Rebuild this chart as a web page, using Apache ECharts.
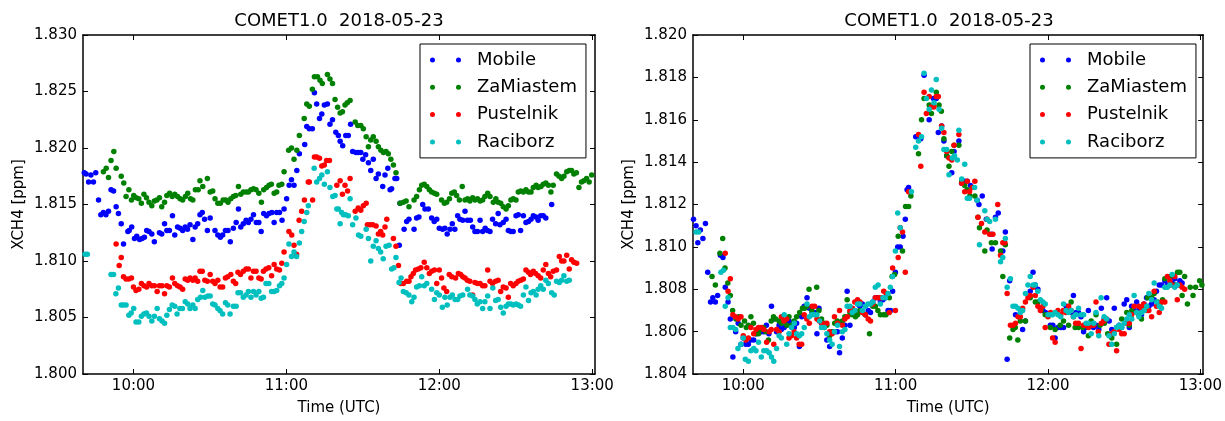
<!DOCTYPE html>
<html><head><meta charset="utf-8">
<script src="https://cdn.jsdelivr.net/npm/echarts@6/dist/echarts.min.js"></script>
<style>html,body{margin:0;padding:0;background:#fff}#c{width:1225px;height:421px}</style>
</head><body><div id="c"></div>
<script>
// time = minutes after 09:00 UTC, value = XCH4 [ppm]
const titleText = 'COMET1.0  2018-05-23';
const seriesNames = ['Mobile', 'ZaMiastem', 'Pustelnik', 'Raciborz'];
const seriesColors = ['#0000ff', '#008000', '#ff0000', '#00bfbf'];
const xTickMinutes = [60, 120, 180, 240];
const xRange = [40.2, 241.1];
const yRangeLeft = [1.800, 1.830, 0.005];
const yRangeRight = [1.804, 1.820, 0.002];

// ---------- left panel ----------
const mobileLeft = [[40.7,1.8178],[41.4,1.8177],[42.4,1.8170],[43.3,1.8176],[44.3,1.8170],[45.2,1.8178],[46.3,1.8154],[47.2,1.8141],[48.2,1.8143],[49.2,1.8141],[50.2,1.8144],[51.2,1.8163],[52.2,1.8162],[53.2,1.8148],[54.1,1.8142],[55.2,1.8133],[56.1,1.8115],[57.8,1.8126],[58.3,1.8127],[59.3,1.8130],[60.4,1.8120],[61.3,1.8122],[62.4,1.8119],[63.4,1.8120],[64.3,1.8121],[65.2,1.8127],[66.1,1.8126],[67.2,1.8124],[68.2,1.8117],[70.2,1.8125],[71.1,1.8124],[72.2,1.8133],[73.1,1.8127],[74.1,1.8127],[75.3,1.8140],[76.2,1.8123],[77.3,1.8130],[78.3,1.8129],[79.3,1.8127],[80.3,1.8130],[81.2,1.8128],[82.2,1.8132],[83.3,1.8119],[84.2,1.8130],[85.2,1.8133],[86.1,1.8141],[87.0,1.8143],[87.9,1.8137],[89.0,1.8127],[90.1,1.8138],[92.0,1.8127],[93.1,1.8123],[94.1,1.8121],[95.0,1.8123],[96.1,1.8127],[97.1,1.8127],[98.0,1.8117],[99.2,1.8129],[100.3,1.8134],[101.2,1.8146],[102.1,1.8130],[103.1,1.8133],[104.2,1.8136],[105.1,1.8134],[106.1,1.8137],[107.1,1.8141],[108.2,1.8134],[109.2,1.8134],[110.1,1.8126],[111.1,1.8142],[112.2,1.8140],[113.2,1.8142],[114.3,1.8143],[115.2,1.8134],[116.2,1.8143],[117.3,1.8143],[118.3,1.8136],[119.1,1.8146],[120.1,1.8155],[121.1,1.8167],[122.0,1.8172],[123.0,1.8167],[124.1,1.8180],[125.1,1.8195],[127.2,1.8203],[128.0,1.8219],[129.0,1.8217],[130.2,1.8217],[131.0,1.8249],[131.9,1.8239],[133.0,1.8226],[133.9,1.8230],[134.9,1.8238],[136.1,1.8239],[137.1,1.8221],[138.1,1.8225],[139.4,1.8214],[140.4,1.8211],[141.1,1.8206],[142.1,1.8202],[143.3,1.8211],[144.3,1.8211],[145.2,1.8221],[146.0,1.8197],[147.3,1.8196],[148.2,1.8196],[149.2,1.8196],[150.0,1.8190],[151.1,1.8194],[152.2,1.8187],[153.1,1.8180],[154.1,1.8190],[155.2,1.8173],[156.1,1.8177],[157.8,1.8166],[158.7,1.8176],[159.8,1.8182],[160.7,1.8163],[161.3,1.8164],[162.6,1.8173],[163.3,1.8173],[164.3,1.8114],[164.6,1.8151],[166.2,1.8128],[167.2,1.8135],[168.1,1.8137],[170.1,1.8128],[171.1,1.8138],[172.0,1.8139],[173.5,1.8150],[174.4,1.8146],[175.7,1.8146],[177.0,1.8138],[178.0,1.8135],[179.0,1.8137],[180.0,1.8129],[181.3,1.8128],[182.2,1.8129],[183.1,1.8124],[184.2,1.8128],[185.1,1.8133],[186.1,1.8128],[187.2,1.8140],[188.1,1.8137],[189.2,1.8136],[190.1,1.8144],[191.1,1.8136],[192.2,1.8136],[193.1,1.8130],[194.0,1.8126],[195.0,1.8126],[196.0,1.8136],[197.0,1.8126],[198.0,1.8129],[198.9,1.8127],[199.9,1.8126],[200.9,1.8137],[202.1,1.8133],[203.1,1.8142],[203.8,1.8132],[205.1,1.8134],[206.2,1.8137],[207.1,1.8127],[208.1,1.8126],[209.0,1.8126],[210.1,1.8140],[211.0,1.8141],[211.9,1.8127],[213.0,1.8140],[214.0,1.8134],[215.0,1.8135],[216.0,1.8137],[216.9,1.8140],[217.9,1.8139],[218.8,1.8136],[219.8,1.8140],[220.8,1.8140],[221.8,1.8138],[224.1,1.8150]];
const zaMiastemLeft = [[48.2,1.8179],[49.3,1.8182],[50.2,1.8174],[51.2,1.8189],[52.3,1.8197],[53.2,1.8182],[55.2,1.8175],[56.2,1.8169],[57.1,1.8157],[58.2,1.8163],[59.2,1.8154],[60.1,1.8158],[61.1,1.8156],[62.1,1.8155],[63.1,1.8151],[64.1,1.8159],[65.1,1.8156],[66.1,1.8152],[67.2,1.8149],[68.2,1.8153],[69.2,1.8154],[70.2,1.8156],[71.1,1.8148],[72.2,1.8152],[73.1,1.8158],[74.2,1.8160],[75.2,1.8157],[76.2,1.8159],[77.3,1.8157],[78.3,1.8155],[79.3,1.8154],[80.4,1.8157],[81.3,1.8160],[82.4,1.8155],[83.3,1.8154],[84.3,1.8163],[85.4,1.8163],[86.1,1.8171],[87.2,1.8166],[89.0,1.8173],[90.1,1.8161],[91.1,1.8162],[92.0,1.8155],[93.1,1.8151],[94.1,1.8151],[95.2,1.8154],[96.2,1.8154],[97.1,1.8152],[98.2,1.8155],[99.2,1.8157],[100.1,1.8158],[101.2,1.8166],[102.1,1.8159],[103.1,1.8161],[104.2,1.8161],[105.1,1.8161],[106.1,1.8163],[107.1,1.8164],[108.1,1.8163],[109.2,1.8160],[110.2,1.8152],[111.1,1.8163],[112.2,1.8165],[113.2,1.8167],[114.1,1.8168],[115.2,1.8160],[116.2,1.8161],[117.1,1.8167],[118.2,1.8168],[119.1,1.8179],[120.9,1.8198],[122.0,1.8200],[123.0,1.8190],[124.1,1.8198],[125.1,1.8211],[127.0,1.8226],[128.0,1.8239],[129.0,1.8237],[130.2,1.8252],[131.0,1.8263],[132.2,1.8263],[133.2,1.8260],[134.1,1.8257],[136.1,1.8265],[137.1,1.8261],[138.1,1.8257],[139.1,1.8243],[140.1,1.8236],[141.1,1.8231],[142.0,1.8232],[143.0,1.8238],[143.9,1.8240],[145.0,1.8242],[147.0,1.8223],[148.0,1.8220],[149.2,1.8220],[150.2,1.8217],[151.3,1.8210],[152.2,1.8201],[153.1,1.8207],[154.1,1.8210],[155.2,1.8206],[156.1,1.8201],[157.1,1.8198],[158.1,1.8196],[159.1,1.8197],[160.0,1.8195],[161.0,1.8190],[162.0,1.8185],[163.0,1.8178],[164.6,1.8151],[165.9,1.8152],[167.0,1.8153],[168.1,1.8148],[170.1,1.8154],[171.1,1.8157],[172.2,1.8163],[173.1,1.8167],[174.1,1.8168],[175.1,1.8166],[176.1,1.8163],[177.0,1.8161],[178.1,1.8160],[179.0,1.8159],[180.9,1.8154],[182.0,1.8151],[182.9,1.8152],[184.0,1.8155],[184.9,1.8160],[185.9,1.8161],[186.8,1.8158],[187.9,1.8154],[189.0,1.8166],[190.1,1.8154],[191.1,1.8155],[192.0,1.8153],[193.1,1.8156],[194.0,1.8154],[195.0,1.8155],[196.0,1.8153],[197.0,1.8154],[197.9,1.8157],[199.0,1.8160],[199.9,1.8157],[201.2,1.8152],[202.2,1.8155],[203.1,1.8152],[204.1,1.8151],[205.1,1.8148],[206.2,1.8146],[207.1,1.8149],[208.1,1.8154],[209.0,1.8155],[210.1,1.8154],[211.0,1.8161],[212.0,1.8162],[213.0,1.8161],[214.0,1.8163],[215.0,1.8161],[216.0,1.8161],[216.9,1.8165],[218.0,1.8167],[218.8,1.8165],[219.9,1.8166],[220.8,1.8168],[221.8,1.8169],[222.8,1.8167],[223.8,1.8161],[224.7,1.8167],[226.0,1.8177],[227.0,1.8175],[228.0,1.8173],[228.9,1.8175],[230.0,1.8179],[231.0,1.8180],[231.9,1.8180],[232.8,1.8177],[233.8,1.8178],[234.8,1.8165],[235.8,1.8170],[236.7,1.8171],[237.8,1.8173],[238.8,1.8170],[239.8,1.8176]];
const pustelnikLeft = [[53.2,1.8115],[54.4,1.8096],[55.2,1.8103],[56.1,1.8086],[57.1,1.8084],[58.2,1.8084],[59.2,1.8085],[60.0,1.8077],[61.0,1.8074],[62.1,1.8075],[63.1,1.8080],[64.1,1.8078],[65.2,1.8077],[66.1,1.8080],[67.2,1.8078],[68.2,1.8078],[69.3,1.8073],[70.2,1.8078],[71.2,1.8078],[72.2,1.8071],[73.1,1.8078],[74.1,1.8077],[75.3,1.8085],[76.2,1.8080],[77.3,1.8078],[78.3,1.8077],[79.3,1.8075],[80.3,1.8084],[81.3,1.8083],[82.2,1.8085],[83.3,1.8083],[84.2,1.8085],[85.2,1.8082],[86.1,1.8091],[87.0,1.8091],[88.0,1.8083],[89.0,1.8082],[90.1,1.8088],[91.1,1.8082],[92.0,1.8080],[93.1,1.8083],[94.0,1.8077],[95.0,1.8077],[96.1,1.8085],[97.0,1.8086],[98.2,1.8088],[99.2,1.8082],[100.1,1.8080],[101.0,1.8090],[102.0,1.8088],[103.1,1.8091],[104.2,1.8093],[105.1,1.8093],[106.1,1.8085],[107.1,1.8091],[108.1,1.8091],[109.2,1.8085],[110.1,1.8084],[111.0,1.8091],[112.0,1.8093],[113.1,1.8094],[114.2,1.8087],[115.2,1.8097],[116.2,1.8093],[117.3,1.8092],[118.2,1.8098],[119.1,1.8108],[121.0,1.8126],[122.1,1.8123],[123.0,1.8114],[124.0,1.8106],[125.0,1.8136],[126.0,1.8144],[127.1,1.8154],[128.6,1.8170],[129.0,1.8170],[130.3,1.8154],[131.0,1.8192],[131.9,1.8192],[133.0,1.8191],[133.9,1.8184],[134.9,1.8185],[135.8,1.8189],[136.9,1.8189],[139.8,1.8167],[141.1,1.8171],[142.0,1.8159],[143.0,1.8167],[144.0,1.8162],[145.0,1.8173],[147.0,1.8144],[148.2,1.8147],[149.2,1.8145],[150.2,1.8149],[151.3,1.8151],[151.8,1.8132],[152.8,1.8132],[153.9,1.8132],[155.2,1.8131],[156.1,1.8124],[157.0,1.8126],[157.8,1.8123],[158.7,1.8130],[159.4,1.8137],[162.0,1.8120],[163.0,1.8113],[164.0,1.8096],[164.9,1.8080],[165.9,1.8080],[167.2,1.8082],[168.1,1.8082],[168.9,1.8086],[169.8,1.8089],[170.7,1.8092],[171.8,1.8093],[172.8,1.8094],[174.1,1.8099],[175.1,1.8094],[176.1,1.8089],[177.0,1.8091],[178.1,1.8092],[179.0,1.8080],[180.0,1.8092],[180.9,1.8085],[181.8,1.8076],[182.9,1.8073],[183.9,1.8088],[184.9,1.8086],[186.4,1.8085],[187.5,1.8089],[188.4,1.8088],[189.2,1.8086],[190.1,1.8085],[191.0,1.8083],[192.0,1.8082],[193.1,1.8070],[194.0,1.8081],[195.0,1.8080],[196.0,1.8080],[197.0,1.8078],[197.9,1.8078],[199.0,1.8092],[199.9,1.8082],[200.9,1.8080],[202.1,1.8082],[203.1,1.8083],[204.1,1.8073],[205.1,1.8077],[206.2,1.8076],[207.1,1.8068],[208.0,1.8080],[209.0,1.8078],[210.1,1.8080],[211.0,1.8082],[212.0,1.8083],[213.0,1.8084],[214.0,1.8092],[215.0,1.8090],[215.8,1.8088],[216.9,1.8091],[217.8,1.8089],[218.8,1.8087],[219.8,1.8085],[220.8,1.8092],[221.8,1.8097],[222.8,1.8089],[223.7,1.8086],[224.7,1.8091],[226.0,1.8092],[227.1,1.8104],[228.0,1.8100],[228.9,1.8100],[230.0,1.8105],[231.0,1.8093],[231.9,1.8101],[232.8,1.8099],[233.9,1.8098]];
const raciborzLeft = [[41.0,1.8106],[41.9,1.8106],[51.2,1.8088],[52.2,1.8088],[53.1,1.8071],[54.1,1.8076],[55.2,1.8061],[56.1,1.8061],[57.1,1.8061],[58.2,1.8052],[59.1,1.8054],[60.1,1.8058],[61.0,1.8046],[62.1,1.8046],[63.1,1.8051],[64.1,1.8053],[65.1,1.8054],[66.1,1.8051],[67.2,1.8047],[68.2,1.8051],[69.3,1.8058],[70.2,1.8049],[71.2,1.8047],[72.2,1.8045],[73.1,1.8052],[74.1,1.8057],[75.2,1.8061],[76.2,1.8060],[77.1,1.8053],[78.2,1.8058],[79.2,1.8058],[80.3,1.8064],[81.3,1.8062],[82.2,1.8058],[83.3,1.8061],[84.2,1.8058],[85.2,1.8066],[86.3,1.8068],[87.2,1.8074],[88.0,1.8068],[89.2,1.8069],[90.1,1.8069],[91.1,1.8062],[92.0,1.8061],[93.1,1.8058],[94.0,1.8056],[95.0,1.8053],[96.1,1.8063],[97.0,1.8061],[97.9,1.8053],[99.2,1.8060],[100.3,1.8060],[101.0,1.8072],[102.0,1.8072],[103.1,1.8068],[104.2,1.8070],[105.1,1.8073],[106.1,1.8068],[107.1,1.8073],[108.1,1.8070],[109.2,1.8073],[110.1,1.8067],[111.0,1.8068],[112.0,1.8080],[113.1,1.8080],[114.2,1.8073],[115.2,1.8073],[116.2,1.8074],[117.3,1.8078],[118.2,1.8080],[119.1,1.8085],[120.1,1.8097],[121.0,1.8115],[122.0,1.8104],[123.0,1.8108],[124.0,1.8104],[125.1,1.8116],[126.0,1.8126],[127.0,1.8135],[128.0,1.8143],[128.6,1.8149],[130.9,1.8182],[131.9,1.8170],[133.0,1.8173],[133.9,1.8176],[134.9,1.8168],[136.1,1.8179],[137.1,1.8165],[138.2,1.8157],[139.1,1.8158],[139.8,1.8146],[140.4,1.8146],[141.1,1.8133],[141.7,1.8143],[142.4,1.8141],[143.3,1.8141],[144.3,1.8140],[145.0,1.8155],[146.0,1.8132],[147.3,1.8138],[148.3,1.8123],[149.2,1.8122],[151.3,1.8128],[152.2,1.8120],[153.1,1.8100],[154.1,1.8113],[155.2,1.8118],[156.1,1.8111],[157.0,1.8108],[158.0,1.8102],[159.1,1.8113],[160.3,1.8114],[161.3,1.8093],[162.2,1.8094],[163.0,1.8103],[164.2,1.8081],[165.0,1.8085],[165.9,1.8073],[167.0,1.8072],[168.1,1.8070],[169.2,1.8064],[170.1,1.8068],[171.1,1.8077],[172.2,1.8078],[173.1,1.8086],[174.1,1.8078],[175.1,1.8080],[177.0,1.8075],[178.1,1.8066],[179.0,1.8072],[180.0,1.8070],[181.2,1.8059],[182.2,1.8068],[183.1,1.8061],[184.2,1.8068],[185.1,1.8070],[186.2,1.8066],[187.2,1.8066],[188.1,1.8069],[189.2,1.8070],[191.1,1.8075],[192.0,1.8070],[193.1,1.8069],[194.0,1.8066],[194.9,1.8062],[196.0,1.8064],[197.0,1.8058],[197.9,1.8064],[199.0,1.8069],[199.9,1.8058],[201.0,1.8076],[202.1,1.8065],[203.1,1.8066],[204.1,1.8059],[205.1,1.8054],[206.2,1.8060],[207.1,1.8062],[208.1,1.8062],[209.0,1.8061],[210.1,1.8062],[211.0,1.8061],[211.9,1.8060],[213.0,1.8070],[214.0,1.8077],[215.0,1.8065],[216.0,1.8072],[216.9,1.8073],[218.0,1.8070],[218.8,1.8075],[219.8,1.8078],[220.8,1.8075],[221.8,1.8083],[222.8,1.8080],[224.1,1.8072],[225.1,1.8070],[226.0,1.8082],[227.1,1.8081],[228.0,1.8083],[228.9,1.8087],[230.0,1.8082],[231.0,1.8083]];

// ---------- right panel ----------
const mobileRight = [[40.4,1.8113],[41.4,1.8110],[42.1,1.8102],[43.1,1.8108],[44.1,1.8104],[45.1,1.8111],[46.0,1.8088],[47.1,1.8074],[48.0,1.8076],[49.0,1.8074],[49.9,1.8077],[51.0,1.8096],[52.0,1.8095],[52.9,1.8081],[54.0,1.8074],[54.9,1.8066],[55.9,1.8048],[57.0,1.8060],[58.0,1.8064],[59.1,1.8054],[60.0,1.8057],[61.0,1.8054],[62.0,1.8054],[63.0,1.8056],[64.1,1.8056],[65.1,1.8059],[66.0,1.8061],[67.1,1.8060],[68.1,1.8060],[69.1,1.8063],[70.1,1.8059],[71.1,1.8072],[72.0,1.8066],[73.1,1.8060],[74.1,1.8063],[75.0,1.8061],[76.1,1.8062],[77.1,1.8063],[78.0,1.8065],[79.1,1.8064],[80.1,1.8062],[81.0,1.8064],[82.1,1.8053],[83.0,1.8067],[84.0,1.8072],[85.1,1.8076],[86.0,1.8071],[87.1,1.8069],[88.1,1.8069],[89.0,1.8059],[89.8,1.8071],[90.8,1.8064],[91.9,1.8063],[92.9,1.8056],[94.0,1.8053],[95.0,1.8060],[96.1,1.8060],[97.1,1.8060],[97.9,1.8050],[99.0,1.8057],[100.0,1.8063],[100.9,1.8079],[102.0,1.8063],[102.9,1.8070],[103.9,1.8070],[105.0,1.8073],[105.9,1.8072],[106.9,1.8073],[108.0,1.8068],[109.2,1.8070],[110.1,1.8069],[111.0,1.8074],[112.0,1.8076],[113.1,1.8076],[114.0,1.8074],[115.0,1.8075],[116.0,1.8076],[117.0,1.8070],[118.0,1.8070],[118.8,1.8079],[119.9,1.8088],[120.8,1.8100],[121.8,1.8100],[122.9,1.8105],[123.8,1.8113],[124.5,1.8127],[125.1,1.8128],[127.9,1.8152],[129.9,1.8151],[131.2,1.8181],[133.2,1.8160],[134.9,1.8170],[136.0,1.8170],[136.8,1.8154],[138.1,1.8157],[139.0,1.8150],[140.1,1.8143],[142.1,1.8135],[143.0,1.8145],[144.9,1.8150],[146.0,1.8130],[147.2,1.8131],[148.2,1.8131],[149.5,1.8129],[152.1,1.8122],[152.8,1.8120],[154.1,1.8124],[155.7,1.8113],[157.7,1.8106],[158.0,1.8099],[159.3,1.8114],[160.4,1.8116],[162.2,1.8098],[163.2,1.8107],[163.9,1.8047],[164.9,1.8084],[167.2,1.8068],[170.0,1.8061],[171.1,1.8065],[173.0,1.8079],[174.1,1.8088],[175.0,1.8082],[176.0,1.8080],[177.0,1.8071],[178.0,1.8070],[179.0,1.8069],[180.9,1.8063],[181.9,1.8063],[182.8,1.8057],[183.9,1.8062],[185.1,1.8062],[186.1,1.8062],[187.2,1.8072],[188.1,1.8070],[189.1,1.8069],[190.0,1.8077],[191.1,1.8069],[192.0,1.8069],[193.0,1.8067],[194.0,1.8060],[195.0,1.8062],[195.9,1.8070],[197.0,1.8063],[197.9,1.8062],[198.9,1.8063],[200.0,1.8061],[201.0,1.8071],[202.1,1.8066],[203.1,1.8076],[204.1,1.8065],[205.1,1.8061],[206.1,1.8071],[207.0,1.8062],[208.0,1.8063],[209.0,1.8062],[210.0,1.8073],[211.0,1.8075],[212.0,1.8062],[212.9,1.8072],[213.9,1.8070],[214.9,1.8074],[215.9,1.8071],[216.8,1.8068],[217.8,1.8073],[218.8,1.8076],[219.7,1.8072],[220.8,1.8073],[221.8,1.8075],[222.7,1.8079],[223.8,1.8082],[224.7,1.8082],[226.0,1.8084],[227.0,1.8082],[227.9,1.8082],[228.9,1.8083],[229.9,1.8085],[230.9,1.8082],[231.9,1.8084],[232.8,1.8083]];
const zaMiastemRight = [[47.7,1.8086],[49.0,1.8082],[50.8,1.8097],[51.9,1.8104],[52.8,1.8090],[53.9,1.8083],[54.9,1.8077],[55.8,1.8070],[57.1,1.8066],[58.2,1.8067],[59.1,1.8063],[60.5,1.8065],[61.2,1.8062],[62.0,1.8063],[63.0,1.8067],[64.0,1.8064],[65.0,1.8059],[66.0,1.8059],[66.9,1.8061],[68.0,1.8062],[68.9,1.8060],[69.9,1.8056],[71.0,1.8065],[71.9,1.8067],[72.8,1.8066],[74.1,1.8065],[75.0,1.8064],[76.1,1.8065],[77.1,1.8063],[78.0,1.8067],[79.1,1.8063],[80.0,1.8065],[81.0,1.8067],[82.2,1.8069],[83.3,1.8071],[84.2,1.8071],[85.0,1.8072],[85.9,1.8080],[87.0,1.8070],[88.9,1.8081],[89.8,1.8070],[90.8,1.8066],[91.9,1.8064],[92.9,1.8063],[94.0,1.8058],[95.0,1.8060],[96.0,1.8064],[97.0,1.8065],[97.9,1.8064],[99.0,1.8065],[100.0,1.8067],[100.9,1.8075],[102.0,1.8069],[102.9,1.8068],[104.2,1.8067],[105.0,1.8068],[105.9,1.8070],[107.0,1.8069],[108.1,1.8068],[109.7,1.8059],[111.0,1.8072],[112.0,1.8072],[113.0,1.8070],[114.0,1.8068],[115.3,1.8068],[116.2,1.8068],[117.5,1.8076],[118.6,1.8086],[119.6,1.8087],[121.0,1.8105],[122.7,1.8098],[123.9,1.8119],[125.1,1.8119],[126.0,1.8124],[129.0,1.8144],[130.2,1.8160],[131.2,1.8170],[133.2,1.8167],[134.1,1.8163],[136.0,1.8173],[137.1,1.8167],[138.0,1.8164],[139.0,1.8151],[140.1,1.8143],[141.0,1.8138],[142.1,1.8145],[143.0,1.8148],[144.9,1.8148],[146.0,1.8131],[147.2,1.8129],[148.2,1.8127],[149.2,1.8124],[151.2,1.8124],[152.4,1.8114],[153.0,1.8109],[155.1,1.8098],[156.0,1.8108],[157.7,1.8102],[159.3,1.8102],[161.3,1.8098],[162.2,1.8086],[163.2,1.8101],[164.9,1.8057],[166.2,1.8061],[167.1,1.8062],[168.1,1.8056],[169.1,1.8065],[171.1,1.8065],[173.0,1.8076],[175.0,1.8074],[176.0,1.8074],[177.3,1.8070],[178.9,1.8068],[180.9,1.8062],[182.8,1.8061],[184.8,1.8063],[186.1,1.8065],[188.1,1.8063],[189.1,1.8074],[190.7,1.8062],[192.0,1.8062],[193.7,1.8062],[195.9,1.8058],[197.0,1.8065],[198.9,1.8068],[200.5,1.8063],[202.2,1.8064],[203.5,1.8059],[205.1,1.8057],[207.0,1.8054],[209.0,1.8066],[211.0,1.8069],[212.0,1.8063],[213.0,1.8070],[214.9,1.8069],[215.8,1.8068],[216.8,1.8066],[218.1,1.8071],[219.2,1.8076],[220.8,1.8076],[221.8,1.8078],[223.1,1.8074],[224.1,1.8073],[225.1,1.8075],[226.0,1.8085],[228.0,1.8086],[229.9,1.8082],[231.0,1.8088],[231.9,1.8088],[232.8,1.8077],[233.8,1.8086],[234.9,1.8073],[236.0,1.8081],[237.1,1.8077],[238.1,1.8081],[239.7,1.8084],[240.6,1.8082]];
const pustelnikRight = [[52.9,1.8097],[54.0,1.8079],[54.9,1.8085],[55.9,1.8068],[56.9,1.8067],[58.0,1.8066],[59.1,1.8067],[60.0,1.8058],[61.0,1.8056],[62.0,1.8057],[63.0,1.8062],[64.1,1.8059],[65.0,1.8061],[66.0,1.8062],[67.1,1.8062],[68.1,1.8061],[69.2,1.8055],[70.2,1.8060],[71.0,1.8061],[72.0,1.8054],[73.1,1.8061],[74.1,1.8060],[75.0,1.8067],[76.0,1.8065],[77.1,1.8066],[78.0,1.8057],[79.0,1.8058],[80.0,1.8060],[81.0,1.8057],[82.0,1.8054],[83.0,1.8054],[84.0,1.8068],[85.0,1.8066],[86.0,1.8064],[87.1,1.8072],[88.1,1.8072],[89.0,1.8066],[89.9,1.8065],[91.0,1.8064],[91.9,1.8062],[92.9,1.8064],[94.0,1.8060],[95.0,1.8059],[95.9,1.8067],[97.1,1.8064],[97.9,1.8070],[99.0,1.8063],[100.0,1.8066],[101.0,1.8067],[102.0,1.8070],[103.0,1.8071],[103.9,1.8074],[105.0,1.8075],[105.9,1.8074],[106.9,1.8069],[108.1,1.8068],[109.2,1.8066],[110.1,1.8065],[111.0,1.8073],[112.0,1.8076],[113.3,1.8076],[114.4,1.8076],[115.3,1.8079],[116.3,1.8078],[117.5,1.8069],[118.8,1.8090],[119.9,1.8070],[121.0,1.8095],[121.8,1.8109],[122.7,1.8107],[123.8,1.8088],[125.1,1.8126],[129.0,1.8153],[129.9,1.8138],[131.2,1.8173],[132.1,1.8163],[133.2,1.8171],[134.1,1.8166],[135.1,1.8166],[136.0,1.8171],[136.8,1.8171],[138.1,1.8157],[139.0,1.8154],[140.1,1.8145],[141.0,1.8142],[142.1,1.8141],[143.0,1.8148],[144.9,1.8153],[146.0,1.8130],[147.2,1.8126],[148.2,1.8131],[149.1,1.8126],[150.2,1.8128],[151.2,1.8131],[152.4,1.8114],[153.8,1.8111],[155.1,1.8107],[156.0,1.8113],[157.0,1.8106],[158.3,1.8106],[160.2,1.8120],[161.3,1.8096],[162.2,1.8102],[163.0,1.8102],[163.9,1.8078],[165.2,1.8063],[166.2,1.8063],[167.2,1.8064],[168.2,1.8067],[169.1,1.8067],[170.0,1.8071],[171.1,1.8074],[172.1,1.8076],[173.0,1.8077],[174.1,1.8081],[175.0,1.8077],[176.0,1.8072],[177.0,1.8070],[178.0,1.8072],[178.9,1.8062],[180.0,1.8067],[181.0,1.8069],[181.8,1.8057],[182.8,1.8055],[183.9,1.8070],[185.0,1.8068],[186.0,1.8070],[187.0,1.8069],[188.1,1.8072],[189.1,1.8070],[190.0,1.8067],[190.9,1.8064],[192.0,1.8064],[193.0,1.8052],[194.0,1.8063],[195.0,1.8063],[196.0,1.8062],[197.0,1.8063],[198.0,1.8063],[198.9,1.8074],[199.8,1.8060],[201.0,1.8064],[202.0,1.8065],[203.1,1.8066],[204.0,1.8054],[205.1,1.8059],[206.0,1.8060],[207.0,1.8051],[208.0,1.8061],[209.0,1.8059],[210.0,1.8059],[211.0,1.8064],[212.0,1.8064],[212.9,1.8068],[213.9,1.8072],[214.9,1.8069],[215.8,1.8072],[216.8,1.8071],[217.7,1.8073],[218.8,1.8070],[219.7,1.8070],[220.8,1.8067],[221.8,1.8079],[222.7,1.8072],[223.8,1.8069],[224.7,1.8074],[226.0,1.8074],[227.0,1.8086],[228.0,1.8084],[228.9,1.8082],[229.9,1.8086],[230.9,1.8075],[231.9,1.8082],[232.8,1.8081],[233.8,1.8080]];
const raciborzRight = [[41.4,1.8107],[42.4,1.8107],[51.2,1.8088],[52.2,1.8089],[52.9,1.8072],[54.0,1.8076],[54.9,1.8062],[55.9,1.8062],[57.0,1.8061],[57.9,1.8052],[59.1,1.8054],[60.0,1.8057],[60.8,1.8047],[62.0,1.8046],[63.0,1.8051],[64.1,1.8052],[65.0,1.8051],[66.0,1.8055],[67.1,1.8048],[68.1,1.8051],[69.2,1.8051],[70.2,1.8050],[71.1,1.8048],[72.0,1.8046],[73.1,1.8052],[74.1,1.8058],[75.0,1.8057],[76.1,1.8068],[77.1,1.8054],[78.0,1.8059],[79.0,1.8062],[80.1,1.8064],[81.0,1.8059],[82.1,1.8058],[83.0,1.8059],[84.0,1.8062],[85.1,1.8073],[86.0,1.8067],[87.1,1.8068],[88.1,1.8068],[89.0,1.8068],[90.1,1.8065],[90.8,1.8062],[91.9,1.8062],[92.9,1.8059],[94.0,1.8056],[95.0,1.8054],[95.9,1.8060],[97.1,1.8063],[97.9,1.8053],[99.0,1.8060],[100.0,1.8061],[100.9,1.8072],[102.0,1.8072],[102.9,1.8069],[103.9,1.8070],[105.0,1.8073],[105.9,1.8073],[106.9,1.8070],[108.1,1.8072],[109.1,1.8073],[110.1,1.8073],[111.0,1.8074],[112.0,1.8081],[113.1,1.8082],[114.0,1.8073],[115.0,1.8076],[116.0,1.8076],[117.0,1.8078],[117.9,1.8081],[118.8,1.8086],[119.9,1.8098],[120.8,1.8116],[121.8,1.8109],[126.2,1.8126],[127.9,1.8147],[129.0,1.8150],[130.2,1.8152],[131.2,1.8182],[132.1,1.8170],[133.2,1.8165],[134.1,1.8174],[135.1,1.8168],[136.0,1.8179],[137.1,1.8165],[138.1,1.8156],[139.0,1.8146],[140.1,1.8146],[141.0,1.8134],[142.3,1.8142],[143.2,1.8143],[144.3,1.8141],[144.9,1.8155],[146.0,1.8132],[147.2,1.8139],[148.2,1.8123],[149.1,1.8123],[151.1,1.8128],[152.1,1.8122],[153.0,1.8101],[155.1,1.8117],[156.0,1.8113],[157.0,1.8112],[159.3,1.8113],[161.3,1.8093],[162.2,1.8095],[163.2,1.8104],[163.9,1.8081],[165.2,1.8085],[166.2,1.8072],[167.2,1.8072],[168.2,1.8071],[169.1,1.8069],[170.0,1.8070],[171.1,1.8078],[172.1,1.8082],[173.0,1.8086],[174.1,1.8082],[175.0,1.8082],[176.0,1.8079],[177.0,1.8075],[178.0,1.8074],[178.9,1.8073],[180.0,1.8068],[181.0,1.8068],[181.8,1.8068],[182.8,1.8069],[183.9,1.8068],[185.0,1.8067],[186.1,1.8073],[187.1,1.8070],[188.1,1.8069],[189.1,1.8070],[190.0,1.8067],[191.0,1.8068],[192.0,1.8071],[193.0,1.8068],[194.0,1.8068],[195.0,1.8064],[195.9,1.8064],[197.0,1.8059],[198.0,1.8064],[198.9,1.8069],[200.0,1.8058],[200.9,1.8076],[202.1,1.8067],[203.1,1.8066],[204.0,1.8058],[205.1,1.8054],[206.1,1.8059],[207.0,1.8062],[208.0,1.8063],[209.0,1.8062],[210.0,1.8064],[211.0,1.8066],[212.0,1.8068],[213.0,1.8066],[213.9,1.8077],[214.9,1.8069],[215.8,1.8067],[216.9,1.8069],[217.9,1.8070],[218.9,1.8072],[219.7,1.8078],[220.8,1.8075],[221.8,1.8083],[222.8,1.8074],[223.8,1.8072],[224.7,1.8071],[226.0,1.8081],[227.0,1.8081],[228.0,1.8082],[228.9,1.8087],[229.9,1.8081],[230.9,1.8082]];

const leftData = [mobileLeft, zaMiastemLeft, pustelnikLeft, raciborzLeft];
const rightData = [mobileRight, zaMiastemRight, pustelnikRight, raciborzRight];

const FONT = 'DejaVu Sans';
const fmtTime = m => { const h = 9 + Math.floor(m / 60); const mm = Math.round(m % 60); return h + ':' + String(mm).padStart(2, '0'); };
const axisLine = { show: true, onZero: false, lineStyle: { color: '#000', width: 1.5 } };
const tick = { show: true, inside: true, length: 5, lineStyle: { color: '#000', width: 1 } };

function xAxes(gi) {
  return [
    { gridIndex: gi, type: 'value', position: 'bottom', min: xRange[0], max: xRange[1],
      name: 'Time (UTC)', nameLocation: 'middle', nameGap: 27,
      nameTextStyle: { fontFamily: FONT, fontSize: 15, color: '#000' },
      axisLine, axisTick: Object.assign({ customValues: xTickMinutes }, tick),
      axisLabel: { customValues: xTickMinutes, formatter: fmtTime, margin: 5, fontFamily: FONT, fontSize: 15, color: '#000' },
      splitLine: { show: false } },
    { gridIndex: gi, type: 'value', position: 'top', min: xRange[0], max: xRange[1],
      axisLine, axisTick: Object.assign({ customValues: xTickMinutes }, tick),
      axisLabel: { show: false, customValues: xTickMinutes }, splitLine: { show: false } }
  ];
}
function yAxes(gi, r) {
  return [
    { gridIndex: gi, type: 'value', position: 'left', min: r[0], max: r[1], interval: r[2],
      name: 'XCH4 [ppm]', nameLocation: 'middle', nameGap: 56,
      nameTextStyle: { fontFamily: FONT, fontSize: 15, color: '#000' },
      axisLine, axisTick: tick,
      axisLabel: { formatter: v => v.toFixed(3), margin: 6, fontFamily: FONT, fontSize: 15, color: '#000' },
      splitLine: { show: false } },
    { gridIndex: gi, type: 'value', position: 'right', min: r[0], max: r[1], interval: r[2],
      axisLine, axisTick: tick, axisLabel: { show: false }, splitLine: { show: false } }
  ];
}
const twoDots = 'path://M0,2.5a2.5,2.5 0 1,0 5,0a2.5,2.5 0 1,0 -5,0M26,2.5a2.5,2.5 0 1,0 5,0a2.5,2.5 0 1,0 -5,0';
function legend(left) {
  return { left, top: 44, orient: 'vertical', data: seriesNames, icon: twoDots,
    itemWidth: 31, itemHeight: 5, itemGap: 9.3, padding: [7, 9, 7, 10],
    backgroundColor: '#fff', borderColor: '#000', borderWidth: 1, borderRadius: 0,
    selectedMode: false,
    textStyle: { fontFamily: FONT, fontSize: 18, color: '#000', lineHeight: 18, padding: [0, 0, 0, 11] } };
}
const series = [];
[leftData, rightData].forEach((set, gi) => {
  set.forEach((d, i) => series.push({
    type: 'scatter', name: seriesNames[i], xAxisIndex: gi * 2, yAxisIndex: gi * 2,
    data: d, symbol: 'circle', symbolSize: 5.5,
    itemStyle: { color: seriesColors[i], opacity: 1 }
  }));
});

const chart = echarts.init(document.getElementById('c'), null, { renderer: 'canvas' });
chart.setOption({
  animation: false,
  backgroundColor: '#fff',
  title: [
    { text: titleText, left: 339, top: 12, textAlign: 'center', padding: 0, textStyle: { fontFamily: FONT, fontSize: 18, fontWeight: 'normal', color: '#000' } },
    { text: titleText, left: 949, top: 12, textAlign: 'center', padding: 0, textStyle: { fontFamily: FONT, fontSize: 18, fontWeight: 'normal', color: '#000' } }
  ],
  grid: [
    { left: 83, top: 35, width: 512, height: 342 },
    { left: 693, top: 35, width: 512, height: 342 }
  ],
  legend: [legend(420), legend(1030)],
  xAxis: [...xAxes(0), ...xAxes(1)],
  yAxis: [...yAxes(0, yRangeLeft), ...yAxes(1, yRangeRight)],
  series
});
</script></body></html>
